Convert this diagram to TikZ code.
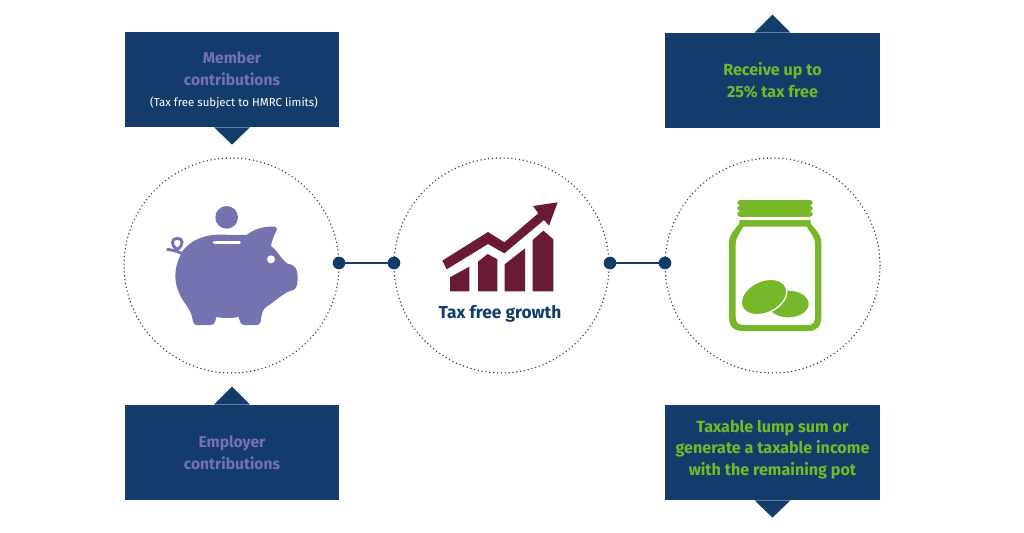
\documentclass[tikz,border=0pt]{standalone}
\usepackage{fontspec}
\setmainfont{Fira Sans}
\definecolor{navy}{HTML}{133C6B}
\definecolor{purp}{HTML}{7572B0}
\definecolor{maroon}{HTML}{6B1A33}
\definecolor{leaf}{HTML}{77B82A}
\tikzset{
  panel/.style={fill=navy,draw=none,inner sep=0pt,minimum width=161pt,minimum height=71.25pt},
  ring/.style={circle,draw=navy,line width=1.15pt,line cap=round,dash pattern=on 0pt off 2.9pt,minimum size=161.25pt,inner sep=0pt},
  joint/.style={circle,fill=navy,inner sep=0pt,minimum size=9.5pt},
  link/.style={draw=navy,line width=2pt,shorten <=-1.5pt,shorten >=-1.5pt},
  head/.style={font=\fontsize{11.7}{16.2}\selectfont\bfseries,align=center,inner sep=0pt},
  headg/.style={font=\fontsize{12.1}{16.2}\selectfont\bfseries,align=center,inner sep=0pt},
  tip/.style={fill=navy,draw=none},
  icon/.style={x=.25pt,y=-.25pt}
}
\begin{document}
\begin{tikzpicture}[x=.75pt,y=-.75pt]
\useasboundingbox[fill=white] (0,0) rectangle (1024,532);
% panels
\node[panel] (p1) at (232,79.5) {};
\node[panel] (p2) at (772.5,80.5) {};
\node[panel] (p3) at (232,452.5) {};
\node[panel] (p4) at (772.5,452.5) {};
\fill[tip] ([xshift=-13.5pt]p1.south) -- ([yshift=-13pt]p1.south) -- ([xshift=13.5pt]p1.south) -- cycle;
\fill[tip] ([xshift=-13.5pt]p2.north) -- ([yshift=13.5pt]p2.north) -- ([xshift=13.5pt]p2.north) -- cycle;
\fill[tip] ([xshift=-13.5pt]p3.north) -- ([yshift=13.5pt]p3.north) -- ([xshift=13.5pt]p3.north) -- cycle;
\fill[tip] ([xshift=-13.5pt]p4.south) -- ([yshift=-13pt]p4.south) -- ([xshift=13.5pt]p4.south) -- cycle;
% panel text
\node[head,text=purp] (t1) at (232,69) {Member\\contributions};
\node[font=\fontsize{8.6}{11}\selectfont,text=white,inner sep=0pt] (t1b) at (234,103) {(Tax free subject to HMRC limits)};
\node[headg,text=leaf] (t2) at (772.5,80) {Receive up to\\25\% tax free};
\node[head,text=purp] (t3) at (232,453) {Employer\\contributions};
\node[headg,text=leaf] (t4) at (772.5,449.5) {Taxable lump sum or\\generate a taxable income\\with the remaining pot};
% rings
\node[ring] (c1) at (231.5,265.5) {};
\node[ring] (c2) at (501.5,265.5) {};
\node[ring] (c3) at (772.5,265.5) {};
% connectors
\node[joint] (j1) at (339,263) {};
\node[joint] (j2) at (394,263) {};
\node[joint] (j3) at (610,263) {};
\node[joint] (j4) at (665,263) {};
\draw[link] (j1) -- (j2);
\draw[link] (j3) -- (j4);
% piggy bank
\begin{scope}[shift={(120,150)},icon]
\fill[purp] (320,202) circle (34);
\draw[purp,line width=2.2pt] (185,310) .. controls (170,302) and (155,300) .. (140,298);
\draw[purp,line width=2.2pt] (172,298) .. controls (150,285) and (155,265) .. (172,265) .. controls (190,265) and (192,285) .. (172,298);
\fill[purp] (190,300) .. controls (215,268) and (260,253) .. (300,254) -- (380,255)
  .. controls (400,238) and (430,228) .. (465,230) .. controls (473,232) and (472,238) .. (468,245)
  .. controls (460,260) and (455,275) .. (453,288) .. controls (475,305) and (485,330) .. (503,341)
  .. controls (525,345) and (533,355) .. (533,385) .. controls (533,410) and (528,420) .. (510,423)
  .. controls (490,430) and (470,450) .. (440,470) .. controls (428,478) and (425,490) .. (422,515)
  .. controls (420,523) and (415,525) .. (410,525) -- (375,525) .. controls (362,525) and (360,515) .. (356,501)
  .. controls (335,505) and (310,505) .. (289,501) .. controls (285,515) and (285,525) .. (270,525)
  -- (232,525) .. controls (222,525) and (220,520) .. (217,505) .. controls (212,475) and (190,460) .. (178,430)
  .. controls (165,405) and (162,370) .. (172,340) .. controls (176,325) and (182,312) .. (190,300) -- cycle;
\draw[white,line width=2.4pt,line cap=round] (283,277) -- (358,277);
\fill[white] (453,328) circle (12);
\end{scope}
% growth chart
\begin{scope}[shift={(400,170)},icon]
\fill[maroon] (150,364) -- (150,322) -- (208,290) -- (208,364) -- cycle;
\fill[maroon] (234,364) -- (234,275) -- (263,252) -- (292,268) -- (292,364) -- cycle;
\fill[maroon] (314,364) -- (314,283) -- (375,235) -- (375,364) -- cycle;
\fill[maroon] (398,364) -- (398,210) -- (430,182) -- (460,208) -- (460,364) -- cycle;
\fill[maroon] (127,272) -- (264,186) -- (313,217) -- (415,130) -- (399,108) -- (473,97) -- (447,167) -- (432,150) -- (313,250) -- (264,222) -- (140,298) -- cycle;
\end{scope}
\node[font=\fontsize{13}{15}\selectfont\bfseries,text=navy,inner sep=0pt] (t5) at (500,314) {Tax free growth};
% jar
\begin{scope}[shift={(680,180)},icon]
\fill[leaf] (180,60) rectangle (390,110);
\fill[leaf,rounded corners=2pt] (172,60) rectangle (398,76);
\fill[leaf,rounded corners=2pt] (172,77) rectangle (398,93);
\fill[leaf,rounded corners=2pt] (172,94) rectangle (398,110);
\fill[leaf,even odd rule] 
  (178,120) -- (392,120) -- (392,130) .. controls (405,150) and (424,160) .. (424,190)
  -- (424,410) .. controls (424,440) and (410,453) .. (385,453) -- (190,453) .. controls (160,453) and (147,440) .. (147,410)
  -- (147,190) .. controls (147,160) and (165,150) .. (178,130) -- cycle
  (190,140) .. controls (180,160) and (167,170) .. (167,195) -- (167,410) .. controls (167,428) and (175,435) .. (192,435)
  -- (385,435) .. controls (398,435) and (405,428) .. (405,410) -- (405,195) .. controls (405,170) and (392,160) .. (380,140) -- cycle;
\fill[leaf] (325,372) ellipse [x radius=61,y radius=40];
\begin{scope}[shift={(252,351)},rotate=25]
\filldraw[fill=leaf,draw=white,line width=1pt] (0,0) ellipse [x radius=72,y radius=48];
\end{scope}
\end{scope}
\end{tikzpicture}
\end{document}
